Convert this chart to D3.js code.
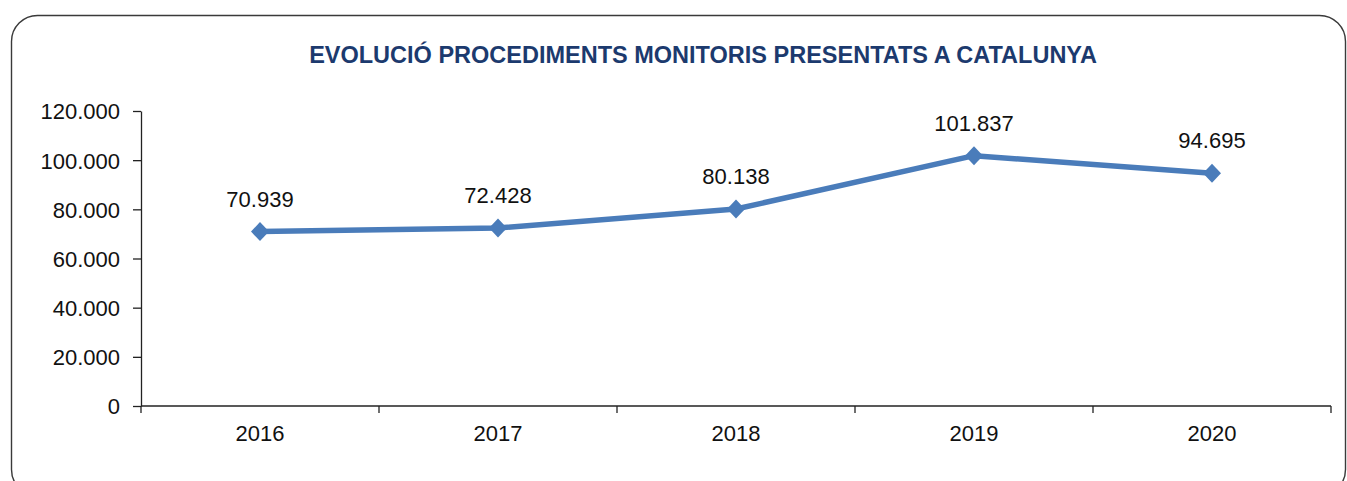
<!DOCTYPE html>
<html>
<head>
<meta charset="utf-8">
<script src="https://cdn.jsdelivr.net/npm/d3@7"></script>
<style>
	body { margin: 0; background: #fff; }
	svg text { font-family: "Liberation Sans", Arial, sans-serif; fill: #111; }
	.axis path, .axis line { stroke: #222; stroke-width: 1.3; }
</style>
</head>
<body>
<div id="chart"></div>
<script>
	'use strict';

	var years = ["2016", "2017", "2018", "2019", "2020"];
	var monitoris = [70939, 72428, 80138, 101837, 94695];
	var yTicks = [0, 20000, 40000, 60000, 80000, 100000, 120000];
	var title = "EVOLUCIÓ PROCEDIMENTS MONITORIS PRESENTATS A CATALUNYA";

	var ext_width = 1347;
	var ext_height = 481;

	var margin = { top: 111, right: 16, bottom: 75, left: 141 };
	var width = 1331 - margin.left;
	var height = 406 - margin.top;

	// formats 120000 as 120.000
	var fmt = function (v) {
		return d3.format(",")(v).replace(/,/g, ".");
	};

	var svg = d3.select("#chart").append("svg")
		.attr("width", ext_width)
		.attr("height", ext_height);

	// rounded frame
	svg.append("rect")
		.attr("x", 11.5)
		.attr("y", 15.5)
		.attr("width", 1334)
		.attr("height", 480)
		.attr("rx", 26)
		.attr("fill", "none")
		.attr("stroke", "#3a3a3a")
		.attr("stroke-width", 1.4);

	svg.append("text")
		.attr("x", 703)
		.attr("y", 63)
		.attr("text-anchor", "middle")
		.style("font-size", "23.5px")
		.style("font-weight", "bold")
		.style("fill", "#1c3a6e")
		.text(title);

	var g = svg.append("g")
		.attr("transform", "translate(" + margin.left + "," + margin.top + ")");

	var x = d3.scaleBand().domain(years).range([0, width]);
	var y = d3.scaleLinear().domain([0, 120000]).range([height, 0]);

	// Y axis
	var yAxis = g.append("g")
		.attr("class", "axis axis--y")
		.call(d3.axisLeft(y).tickValues(yTicks).tickFormat(fmt).tickSizeInner(8).tickSizeOuter(0).tickPadding(13));
	yAxis.selectAll("text").style("font-size", "22px").attr("dy", "0.36em");

	// X axis, ticks on band edges
	var xAxis = g.append("g")
		.attr("class", "axis axis--x")
		.attr("transform", "translate(0," + height + ")")
		.call(d3.axisBottom(x).tickSize(0).tickPadding(19));
	xAxis.select(".domain").remove();
	xAxis.append("line")
		.attr("x1", 0).attr("x2", width)
		.attr("stroke", "#222").attr("stroke-width", 1.3);
	xAxis.selectAll(".edge")
		.data(years.concat(["end"]))
		.enter().append("line")
		.attr("class", "edge")
		.attr("x1", function (d, i) { return i * x.step(); })
		.attr("x2", function (d, i) { return i * x.step(); })
		.attr("y1", 0).attr("y2", 7)
		.attr("stroke", "#222").attr("stroke-width", 1.3);
	xAxis.selectAll(".tick text").style("font-size", "22px");

	var cx = function (d, i) { return x(years[i]) + x.bandwidth() / 2; };

	var line = d3.line()
		.x(cx)
		.y(function (d) { return y(d); });

	g.append("path")
		.datum(monitoris)
		.attr("fill", "none")
		.attr("stroke", "#4a7cba")
		.attr("stroke-width", 5.5)
		.attr("stroke-linejoin", "round")
		.attr("d", line);

	g.selectAll(".marker")
		.data(monitoris)
		.enter().append("path")
		.attr("class", "marker")
		.attr("transform", function (d, i) { return "translate(" + cx(d, i) + "," + y(d) + ")"; })
		.attr("d", "M0,-9.5L9,0L0,9.5L-9,0Z")
		.attr("fill", "#4a7cba");

	g.selectAll(".val")
		.data(monitoris)
		.enter().append("text")
		.attr("class", "val")
		.attr("x", cx)
		.attr("y", function (d) { return y(d) - 25; })
		.attr("text-anchor", "middle")
		.style("font-size", "22px")
		.text(fmt);
</script>
</body>
</html>
